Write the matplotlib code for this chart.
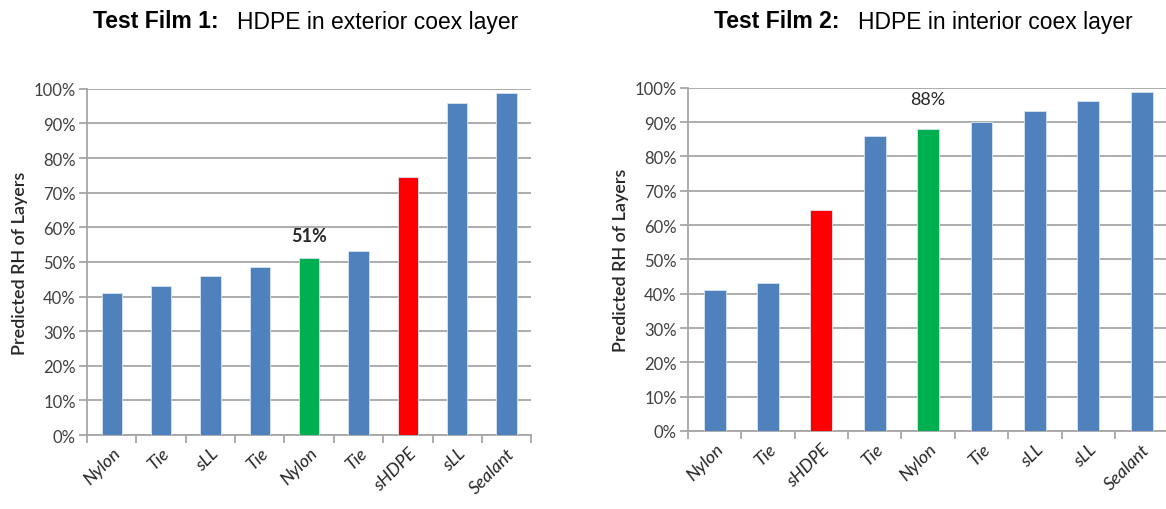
"""
Predicted RH of each coex layer for two HDPE test films.
"""

import matplotlib.pyplot as plt
from matplotlib.ticker import FuncFormatter, MultipleLocator

BLUE = "#4F81BD"
GREEN = "#00B050"
RED = "#FF0000"
GRID = "#A6A6A6"

# Test film 1: HDPE in the exterior coex layer
film1_layers = ["Nylon", "Tie", "sLL", "Tie", "Nylon", "Tie", "sHDPE", "sLL", "Sealant"]
film1_rh = [41, 43, 46, 48.6, 51, 53.2, 74.6, 96, 98.8]
film1_colors = [BLUE, BLUE, BLUE, BLUE, GREEN, BLUE, RED, BLUE, BLUE]

# Test film 2: HDPE in the interior coex layer
film2_layers = ["Nylon", "Tie", "sHDPE", "Tie", "Nylon", "Tie", "sLL", "sLL", "Sealant"]
film2_rh = [41, 43, 64.5, 86, 88, 90, 93.3, 96, 98.8]
film2_colors = [BLUE, BLUE, RED, BLUE, GREEN, BLUE, BLUE, BLUE, BLUE]

TICK_FONT = "Lato"
TITLE_FONT = "Liberation Sans"


def draw_panel(ax, layers, values, colors, label_idx, label_dy, label_weight):
    x = range(len(layers))
    ax.bar(x, values, width=0.41, color=colors, edgecolor="#D8E3F0",
           linewidth=0.6, zorder=3)

    ax.set_xlim(-0.5, len(layers) - 0.5)
    ax.set_ylim(0, 100)
    ax.yaxis.set_major_locator(MultipleLocator(10))
    ax.yaxis.set_major_formatter(FuncFormatter(lambda v, _: f"{v:.0f}%"))
    ax.grid(axis="y", color=GRID, linewidth=1.3, zorder=0)

    # category boundary ticks along the bottom
    ax.set_xticks([i - 0.5 for i in range(len(layers) + 1)], minor=False)
    ax.set_xticklabels([])
    ax.set_xticks(list(x), minor=True)
    ax.set_xticklabels(layers, minor=True, rotation=45, ha="right",
                       rotation_mode="anchor", fontstyle="italic",
                       family=TICK_FONT, fontsize=13, color="#262626")
    ax.tick_params(axis="x", which="minor", length=0, pad=7)
    ax.tick_params(axis="x", which="major", length=6, color=GRID, width=1.3)
    ax.tick_params(axis="y", length=6, color=GRID, width=1.3, pad=2,
                   labelsize=12, labelcolor="#404040")
    for lab in ax.get_yticklabels():
        lab.set_family(TICK_FONT)

    for side in ("top", "right"):
        ax.spines[side].set_visible(False)
    for side in ("left", "bottom"):
        ax.spines[side].set_color(GRID)
        ax.spines[side].set_linewidth(1.3)

    ax.set_ylabel("Predicted RH of Layers", family=TICK_FONT,
                  fontweight="semibold", fontsize=13, color="#262626",
                  labelpad=4)

    v = values[label_idx]
    ax.text(label_idx, v + label_dy, f"{v:.0f}%", ha="center", va="center",
            family=TICK_FONT, fontweight=label_weight, fontsize=13,
            color="#262626", zorder=4)


fig = plt.figure(figsize=(11.66, 5.10), dpi=100)

ax1 = fig.add_axes([0.0746, 0.145, 0.381, 0.679])
draw_panel(ax1, film1_layers, film1_rh, film1_colors, 4, 6.5, "bold")

ax2 = fig.add_axes([0.590, 0.153, 0.412, 0.673])
draw_panel(ax2, film2_layers, film2_rh, film2_colors, 4, 8.8, "normal")

# panel headings
head_y = 1 - 22 / 510
fig.text(93 / 1166, head_y, "Test Film 1:", family=TITLE_FONT,
         fontweight="bold", fontsize=16.5, va="center")
fig.text(237 / 1166, head_y, "HDPE in exterior coex layer",
         family=TITLE_FONT, fontsize=16.5, va="center")
fig.text(714 / 1166, head_y, "Test Film 2:", family=TITLE_FONT,
         fontweight="bold", fontsize=16.5, va="center")
fig.text(858 / 1166, head_y, "HDPE in interior coex layer",
         family=TITLE_FONT, fontsize=16.5, va="center")

fig.savefig("out.png", dpi=100)
